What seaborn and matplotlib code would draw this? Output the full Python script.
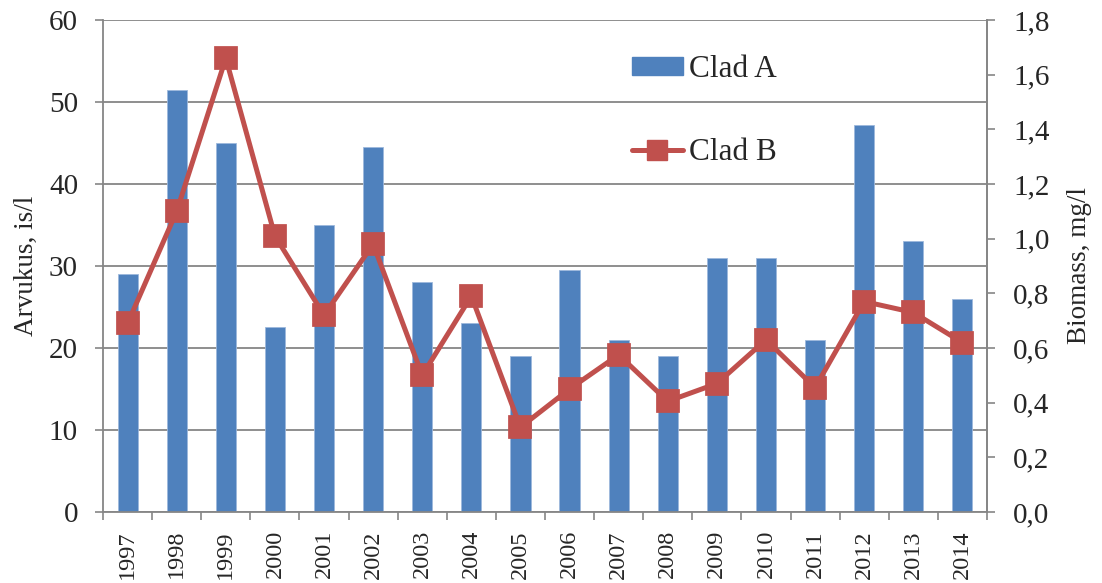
import numpy as np
import pandas as pd
import matplotlib
matplotlib.use("Agg")
import matplotlib.pyplot as plt
import seaborn as sns
from matplotlib.patches import Patch
from matplotlib.lines import Line2D

# ==========================================================
# DATA
# ==========================================================

years = [str(y) for y in range(1997, 2015)]

clad_a = [29.0, 51.5, 45.0, 22.5, 35.0, 44.5, 28.0, 23.0, 19.0,
          29.5, 21.0, 19.0, 31.0, 31.0, 21.0, 47.2, 33.0, 26.0]

clad_b = [0.69, 1.10, 1.66, 1.01, 0.72, 0.98, 0.50, 0.79, 0.31,
          0.45, 0.575, 0.405, 0.47, 0.63, 0.455, 0.77, 0.73, 0.62]

left_ticks = [0, 10, 20, 30, 40, 50, 60]
right_ticks = [0.0, 0.2, 0.4, 0.6, 0.8, 1.0, 1.2, 1.4, 1.6, 1.8]

df = pd.DataFrame({"Year": years, "Clad A": clad_a, "Clad B": clad_b})

# ==========================================================
# STYLE
# ==========================================================

sns.set_style("white")
plt.rcParams["font.family"] = ["Liberation Serif", "DejaVu Serif"]

blue = "#4F81BD"
red = "#C0504D"
grey = "#868686"

fig = plt.figure(figsize=(11.02, 5.83), dpi=100)
ax = fig.add_axes([0.0935, 0.1218, 0.8021, 0.8439])

# ==========================================================
# BARS
# ==========================================================

sns.barplot(
    data=df,
    x="Year",
    y="Clad A",
    color=blue,
    saturation=1,
    width=0.41,
    edgecolor="#9DB9DC",
    linewidth=0.6,
    ax=ax,
    zorder=2
)

ax.set_ylim(0, 60)
ax.set_yticks(left_ticks)
ax.set_xlim(-0.5, len(years) - 0.5)
ax.yaxis.grid(True, color=grey, linewidth=1.3, zorder=0)
ax.set_axisbelow(True)

ax.set_xlabel("")
ax.set_ylabel("Arvukus, is/l", fontsize=19.5, labelpad=7)
ax.tick_params(axis="y", labelsize=21, length=6, width=1.2, color=grey,
               direction="out", left=True, pad=12)
ax.tick_params(axis="x", labelsize=17.5, length=0, rotation=90, pad=13)

# category boundary ticks
ax.set_xticks(np.arange(-0.5, len(years), 1.0), minor=True)
ax.tick_params(axis="x", which="minor", length=6, width=1.2, color=grey,
               direction="out", bottom=True)

ax.spines["top"].set_visible(False)
for side in ["left", "bottom", "right"]:
    ax.spines[side].set_color(grey)
    ax.spines[side].set_linewidth(1.3)

# ==========================================================
# LINE (SECONDARY AXIS)
# ==========================================================

ax2 = ax.twinx()

sns.pointplot(
    data=df,
    x="Year",
    y="Clad B",
    color=red,
    markers="s",
    markersize=14.5,
    linewidth=3.6,
    ax=ax2,
    zorder=3
)

ax2.set_ylim(0, 1.8)
ax2.set_yticks(right_ticks)
ax2.set_yticklabels([f"{v:.1f}".replace(".", ",") for v in right_ticks])
ax2.set_xlim(-0.5, len(years) - 0.5)
ax2.set_ylabel("Biomass, mg/l", fontsize=19.5, labelpad=12)
ax2.tick_params(axis="y", labelsize=21, length=6, width=1.2, color=grey,
                direction="out", right=True, pad=13)
ax2.grid(False)

for side in ["top", "left", "bottom"]:
    ax2.spines[side].set_visible(False)
ax2.spines["right"].set_color(grey)
ax2.spines["right"].set_linewidth(1.3)

# ==========================================================
# LEGEND
# ==========================================================

handles = [
    Patch(facecolor=blue, edgecolor=blue),
    Line2D([0], [0], color=red, linewidth=3.6, marker="s", markersize=14.5)
]

ax2.legend(
    handles,
    ["Clad A", "Clad B"],
    loc="upper left",
    bbox_to_anchor=(0.598, 0.928),
    borderaxespad=0,
    borderpad=0,
    frameon=False,
    fontsize=22.5,
    handlelength=1.65,
    handleheight=0.5,
    handletextpad=0.18,
    labelspacing=1.7
)

fig.savefig("out.png", dpi=100)
